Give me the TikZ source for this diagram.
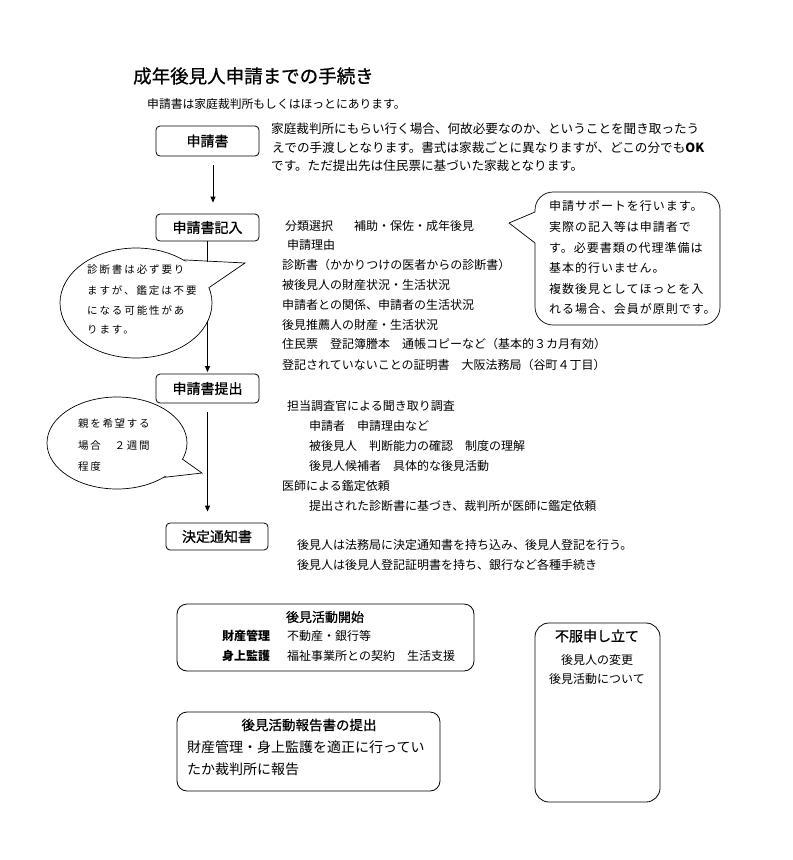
\documentclass[tikz,border=0pt]{standalone}
\usepackage{fontspec}
\setmainfont{Noto Sans CJK JP}
\usetikzlibrary{arrows.meta,shapes.geometric,calc}
\newcommand\myfs[1]{\fontsize{#1}{#1}\selectfont}
\newcommand\semib{\addfontfeature{FakeBold=0.8}}
\tikzset{
  stepbox/.style={draw=black,line width=0.8pt,rounded corners=4pt,inner sep=0pt,minimum width=103pt,minimum height=28pt,font=\myfs{14}\semib},
  bigbox/.style={draw=black,line width=0.8pt,rounded corners=10pt,inner sep=0pt},
  txt/.style={anchor=west,inner sep=0pt,font=\myfs{12}},
  ctxt/.style={anchor=center,inner sep=0pt,font=\myfs{12}},
  arr/.style={line width=0.8pt,-{Triangle[length=6pt,width=5pt]}},
  bubble/.style={draw=black,line width=0.7pt,fill=white},
}
\begin{document}
\begin{tikzpicture}[x=1pt,y=-1pt]
\useasboundingbox[fill=white] (0,0) rectangle (793,860);

% title
\node[txt,font=\myfs{18.5}\semib] (title) at (133,76) {成年後見人申請までの手続き};
\node[txt,font=\myfs{11.8}] (sub) at (147,104) {申請書は家庭裁判所もしくはほっとにあります。};

% step boxes
\node[stepbox,minimum height=30pt] (b1) at (207.5,141) {申請書};
\node[stepbox,minimum height=27pt] (b2) at (207.5,227.5) {申請書記入};
\node[stepbox,minimum height=29pt] (b3) at (207.5,388.5) {申請書提出};
\node[stepbox,minimum width=102pt,minimum height=27pt] (b4) at (217,536.5) {決定通知書};

% arrows
\coordinate (a1s) at ([xshift=5.5pt,yshift=-9pt]b1.south);
\coordinate (a1e) at ([xshift=5.5pt,yshift=11pt]b2.north);
\draw[arr] (a1s) -- (a1e);
\draw[arr] (b2.south) -- ([yshift=1.5pt]b3.north);
\coordinate (a3s) at ([yshift=-9pt]b3.south);
\coordinate (a3e) at ([yshift=11pt]b3.south |- b4.north);
\draw[arr] (a3s) -- (a3e);

% text for step 1
\node[txt,font=\myfs{12.6}] (t11) at (271,129) {家庭裁判所にもらい行く場合、何故必要なのか、ということを聞き取ったう};
\node[txt,font=\myfs{12.6}] (t12) at (272,148) {えでの手渡しとなります。書式は家裁ごとに異なりますが、どこの分でも\textbf{OK}};
\node[txt,font=\myfs{12.6}] (t13) at (271,166) {です。ただ提出先は住民票に基づいた家裁となります。};

% text for step 2
\node[txt] (t21) at (285,226) {分類選択\hspace{21pt}補助・保佐・成年後見};
\node[txt] (t22) at (287,245) {申請理由};
\node[txt] (t23) at (282,265) {診断書（かかりつけの医者からの診断書）};
\node[txt] (t24) at (282,285) {被後見人の財産状況・生活状況};
\node[txt] (t25) at (282,305) {申請者との関係、申請者の生活状況};
\node[txt] (t26) at (282,325) {後見推薦人の財産・生活状況};
\node[txt] (t27) at (282,344) {住民票　登記簿謄本　通帳コピーなど（基本的３カ月有効）};
\node[txt] (t28) at (282,365) {登記されていないことの証明書　大阪法務局（谷町４丁目）};

% text for step 3
\node[txt] (t31) at (287,406) {担当調査官による聞き取り調査};
\node[txt] (t32) at (309,426) {申請者　申請理由など};
\node[txt] (t33) at (309,446) {被後見人　判断能力の確認　制度の理解};
\node[txt] (t34) at (309,466) {後見人候補者　具体的な後見活動};
\node[txt] (t35) at (282,486) {医師による鑑定依頼};
\node[txt] (t36) at (309,506) {提出された診断書に基づき、裁判所が医師に鑑定依頼};

% text for step 4
\node[txt] (t41) at (297,545) {後見人は法務局に決定通知書を持ち込み、後見人登記を行う。};
\node[txt] (t42) at (297,565) {後見人は後見人登記証明書を持ち、銀行など各種手続き};

% right callout
\coordinate (rtip) at (509,223);
\draw[bubble] (535,212) [rounded corners=18pt] -- (535,192) -- (720,192) -- (720,325) -- (535,325) [sharp corners] -- (535,243) -- (rtip) -- cycle;
\begin{scope}[every node/.style={txt,font=\myfs{12}\addfontfeature{LetterSpace=8}}]
\node (r1) at (549,206) {申請サポートを行います。};
\node (r2) at (549,227) {実際の記入等は申請者で};
\node (r3) at (549,248) {す。必要書類の代理準備は};
\node (r4) at (549,268) {基本的行いません。};
\node (r5) at (549,289) {複数後見としてほっとを入};
\node (r6) at (549,309) {れる場合、会員が原則です。};
\end{scope}

% left callout 1
\node[ellipse,bubble,minimum width=152pt,minimum height=110pt,inner sep=0pt] (e1) at (136,303) {};
\coordinate (e1tip) at (245,263);
\fill[white] ($(e1.42)!2pt!(e1.center)$) -- (e1tip) -- ($(e1.12)!2pt!(e1.center)$) -- cycle;
\draw[line width=0.7pt] (e1.42) -- (e1tip) -- (e1.12);
\begin{scope}[every node/.style={txt,font=\myfs{10.5}\addfontfeature{LetterSpace=18}}]
\node (e1a) at (87,270) {診断書は必ず要り};
\node (e1b) at (87,290) {ますが、鑑定は不要};
\node (e1c) at (87,310) {になる可能性があ};
\node (e1d) at (87,330) {ります。};
\end{scope}

% left callout 2
\node[ellipse,bubble,minimum width=140pt,minimum height=92pt,inner sep=0pt] (e2) at (117,443) {};
\coordinate (e2tip) at (202,473);
\fill[white] ($(e2.-14)!2pt!(e2.center)$) -- (e2tip) -- ($(e2.-36)!2pt!(e2.center)$) -- cycle;
\draw[line width=0.7pt] (e2.-14) -- (e2tip) -- (e2.-36);
\begin{scope}[every node/.style={txt,font=\myfs{10.5}\addfontfeature{LetterSpace=16}}]
\node (e2a) at (78,424) {親を希望する};
\node (e2b) at (78,446) {場合　２週間};
\node (e2c) at (78,467) {程度};
\end{scope}

% bottom boxes
\node[bigbox,minimum width=297pt,minimum height=67pt] (b5) at (325.5,637.5) {};
\node[ctxt,font=\myfs{13}\semib] (b5t) at (325,617) {後見活動開始};
\node[txt,font=\myfs{12}\bfseries] (b5a) at (222,636) {財産管理};
\node[txt] (b5b) at (287,636) {不動産・銀行等};
\node[txt,font=\myfs{12}\bfseries] (b5c) at (222,656) {身上監護};
\node[txt] (b5d) at (287,656) {福祉事業所との契約　生活支援};

\node[bigbox,minimum width=263pt,minimum height=79pt] (b6) at (308.5,751.5) {};
\node[ctxt,font=\myfs{13.5}\semib] (b6t) at (309,725) {後見活動報告書の提出};
\node[txt,font=\myfs{14}] (b6a) at (187,747) {財産管理・身上監護を適正に行ってい};
\node[txt,font=\myfs{14}] (b6b) at (187,769) {たか裁判所に報告};

\node[bigbox,rounded corners=14pt,minimum width=125pt,minimum height=179pt] (b7) at (597.5,712.5) {};
\node[ctxt,font=\myfs{14}\semib] (b7t) at (597,636) {不服申し立て};
\node[ctxt] (b7a) at (597,660) {後見人の変更};
\node[ctxt] (b7b) at (597,679) {後見活動について};
\end{tikzpicture}
\end{document}
